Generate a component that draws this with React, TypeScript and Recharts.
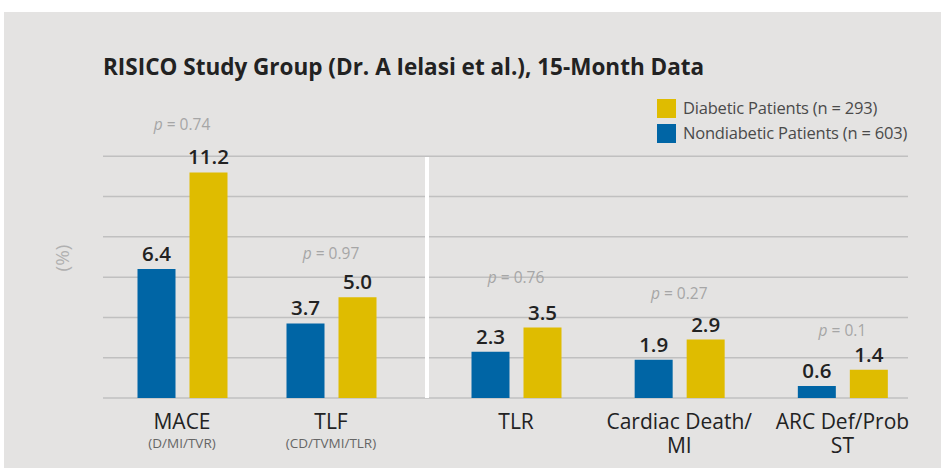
import { ComposedChart, Bar, Line, XAxis, YAxis, CartesianGrid, LabelList } from "recharts";

const categories = ["MACE", "TLF", "TLR", "Cardiac Death/MI", "ARC Def/Prob ST"];
const categoryLines = [["MACE"], ["TLF"], ["TLR"], ["Cardiac Death/", "MI"], ["ARC Def/Prob", "ST"]];
const subLabels = ["(D/MI/TVR)", "(CD/TVMI/TLR)", "", "", ""];
const nondiabetic = [6.4, 3.7, 2.3, 1.9, 0.6];
const diabetic = [11.2, 5.0, 3.5, 2.9, 1.4];
const pValues = ["0.74", "0.97", "0.76", "0.27", "0.1"];
// height (in %) where each p-value note sits in the source
const pLabelLevel = [13.3, 6.9, 5.7, 4.9, 3.1];
const yTicks = [0, 2, 4, 6, 8, 10, 12];

const BLUE = "#0065a5";
const YELLOW = "#dfbc00";
const FONT = "'Open Sans', 'Noto Sans', sans-serif";

const rows = categories.map((name, i) => ({
  name,
  nondiabetic: nondiabetic[i],
  diabetic: diabetic[i],
  p: pValues[i],
  pAt: pLabelLevel[i],
}));

function CategoryTick({ x, y, payload }: any) {
  const i = categories.indexOf(payload.value);
  const lines = categoryLines[i] || [payload.value];
  return (
    <g transform={`translate(${x},${y})`}>
      <text x={0} y={31} textAnchor="middle" fontSize={21} fill="#222" fontFamily={FONT}>
        {lines.map((l, k) => (
          <tspan key={k} x={0} dy={k === 0 ? 0 : 23.5}>
            {l}
          </tspan>
        ))}
      </text>
      {subLabels[i] && (
        <text x={0} y={50} textAnchor="middle" fontSize={13.5} fill="#666" fontFamily={FONT}>
          {subLabels[i]}
        </text>
      )}
    </g>
  );
}

function PLabel({ x, y, value }: any) {
  return (
    <text x={x} y={y} textAnchor="middle" fontSize={15.5} fill="#a6a6a6" fontFamily={FONT}>
      <tspan fontStyle="italic">p</tspan> = {value}
    </text>
  );
}

const valueLabel = {
  position: "top" as const,
  offset: 8,
  fill: "#222",
  fontSize: 20.5,
  fontWeight: 600,
  fontFamily: FONT,
  formatter: (v: any) => Number(v).toFixed(1),
};

function Panel({ data, width, left, padding, gridWidth }: any) {
  return (
    <div style={{ position: "absolute", left, top: 0 }}>
      <ComposedChart width={width} height={458} data={data} margin={{ top: 116, right: 0, bottom: 0, left: 0 }} barSize={38} barGap={14}>
        <CartesianGrid horizontal vertical={false} stroke="#c0c0c0" strokeWidth={1.5} width={gridWidth} horizontalValues={yTicks} />
        <XAxis dataKey="name" padding={padding} axisLine={false} tickLine={false} tickSize={0} tickMargin={0} height={60} interval={0} tick={<CategoryTick />} />
        <YAxis hide domain={[0, 14]} ticks={yTicks} />
        <Bar dataKey="nondiabetic" fill={BLUE} isAnimationActive={false}>
          <LabelList dataKey="nondiabetic" {...valueLabel} />
        </Bar>
        <Bar dataKey="diabetic" fill={YELLOW} isAnimationActive={false}>
          <LabelList dataKey="diabetic" {...valueLabel} />
        </Bar>
        <Line dataKey="pAt" stroke="none" dot={false} activeDot={false} isAnimationActive={false}>
          <LabelList dataKey="p" content={<PLabel />} />
        </Line>
      </ComposedChart>
    </div>
  );
}

export default function App() {
  return (
    <div style={{ position: "absolute", left: 0, top: 0, width: 941, height: 468, background: "#fff", fontFamily: FONT }}>
      <div style={{ position: "absolute", left: 4, top: 12, right: 0, bottom: 0, background: "#e4e3e2" }} />
      <div style={{ position: "absolute", left: 103, top: 52, fontSize: 22.5, fontWeight: 700, color: "#222", whiteSpace: "nowrap", lineHeight: "30px" }}>
        RISICO Study Group (Dr. A Ielasi et al.), 15-Month Data
      </div>
      <div style={{ position: "absolute", left: 657, top: 96, fontSize: 16.5, letterSpacing: -0.2, color: "#4a4a4a", lineHeight: "24px", whiteSpace: "nowrap" }}>
        <div style={{ display: "flex", alignItems: "center", height: 24 }}>
          <span style={{ width: 19, height: 19, background: YELLOW, marginRight: 7, display: "inline-block" }} />
          Diabetic Patients (n = 293)
        </div>
        <div style={{ display: "flex", alignItems: "center", height: 24, marginTop: 1 }}>
          <span style={{ width: 19, height: 19, background: BLUE, marginRight: 7, display: "inline-block" }} />
          Nondiabetic Patients (n = 603)
        </div>
      </div>
      <div style={{ position: "absolute", left: 62, top: 258, transform: "translate(-50%,-50%) rotate(-90deg)", fontSize: 19, color: "#b0b0b0" }}>
        (%)
      </div>
      <Panel data={rows.slice(0, 2)} width={324} left={103} padding={{ left: 4.5, right: 21.5 }} />
      <Panel data={rows.slice(2)} width={497} left={427} padding={{ left: 7.5, right: 0 }} gridWidth={481} />
      <div style={{ position: "absolute", left: 425, top: 157, width: 4, height: 241, background: "#fff" }} />
    </div>
  );
}
